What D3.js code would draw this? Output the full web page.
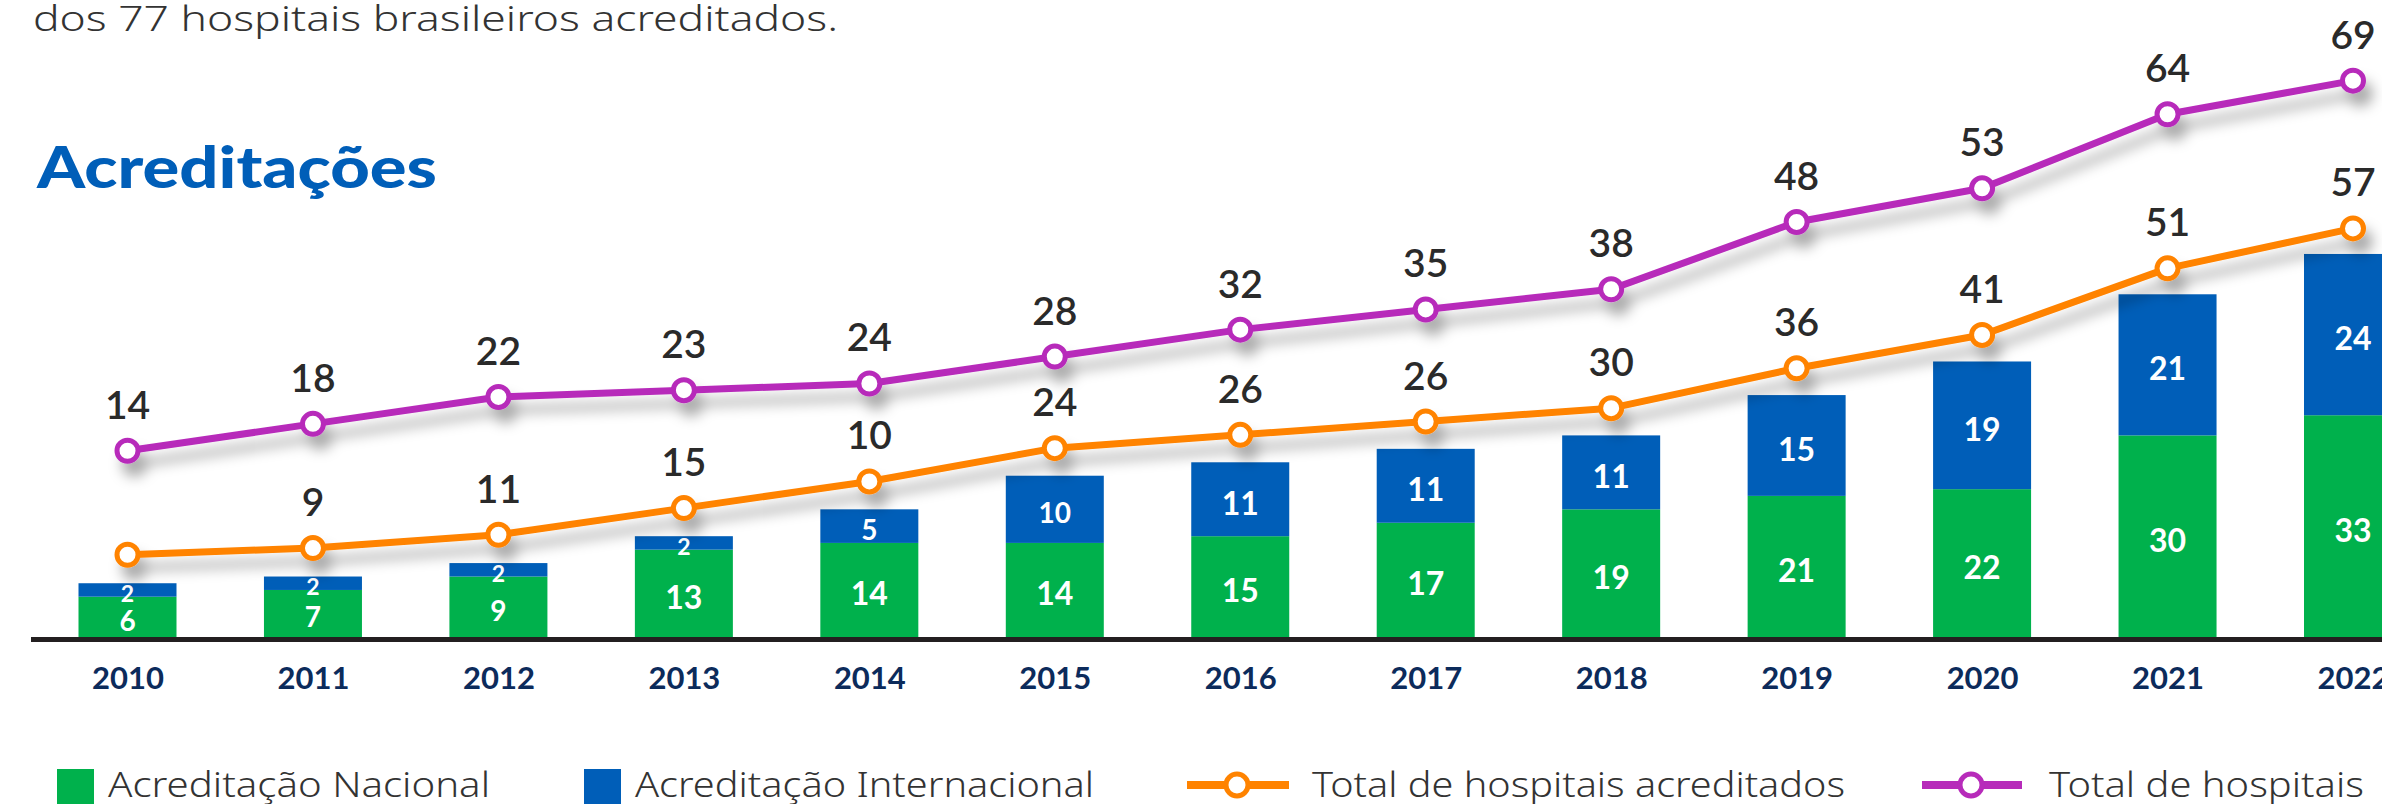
<!DOCTYPE html>
<html>
<head>
<meta charset="utf-8">
<script src="https://cdn.jsdelivr.net/npm/d3@7"></script>
<style>
  body { margin: 0; background: #fff; }
  svg { display: block; font-family: Lato, "Noto Sans", sans-serif; }
</style>
</head>
<body>
<div id="chart"></div>
<script>
var years = ["2010", "2011", "2012", "2013", "2014", "2015", "2016", "2017", "2018", "2019", "2020", "2021", "2022"];
var nacional = [6, 7, 9, 13, 14, 14, 15, 17, 19, 21, 22, 30, 33];
var internacional = [2, 2, 2, 2, 5, 10, 11, 11, 11, 15, 19, 21, 24];
var totalAcreditados = [8, 9, 11, 15, 19, 24, 26, 28, 30, 36, 41, 51, 57];
// labels as printed in the original (2014 and 2017 differ from the totals)
var totalAcreditadosLabels = ["", "9", "11", "15", "10", "24", "26", "26", "30", "36", "41", "51", "57"];
var totalHospitais = [14, 18, 22, 23, 24, 28, 32, 35, 38, 48, 53, 64, 69];

var legendLabels = ["Acreditação Nacional", "Acreditação Internacional", "Total de hospitais acreditados", "Total de hospitais"];

var green = "#00b14c", blue = "#005eb8", orange = "#ff8300", purple = "#b72bba";
var lightFont = "'Noto Sans', 'Open Sans', sans-serif";

var W = 2382, H = 804;
var svg = d3.select("#chart").append("svg")
    .attr("width", W)
    .attr("height", H);

// soft shadow under the lines
var defs = svg.append("defs");
var f = defs.append("filter").attr("id", "shadow")
    .attr("x", "-10%").attr("y", "-30%").attr("width", "130%").attr("height", "200%");
f.append("feDropShadow")
    .attr("dx", 7).attr("dy", 13).attr("stdDeviation", 6.5)
    .attr("flood-color", "#000").attr("flood-opacity", 0.33);

// --> scales
var x = d3.scalePoint().domain(years).range([127.5, 2353]);
var barW = 98;
var baseY = 637;
var yBar = d3.scaleLinear().domain([0, 60]).range([baseY, baseY - 60 * 6.72]);
// the two lines sit higher than the bars in the original layout
var yAcred = d3.scaleLinear().domain([0, 60]).range([608, 608 - 60 * 6.66]);
var yHosp = d3.scaleLinear().domain([0, 70]).range([545, 545 - 70 * 6.73]);

// header text
svg.append("text")
    .attr("x", 33).attr("y", 31)
    .attr("font-family", lightFont)
    .attr("font-size", 35).attr("font-weight", 300)
    .attr("fill", "#333")
    .attr("textLength", 805).attr("lengthAdjust", "spacingAndGlyphs")
    .text("dos 77 hospitais brasileiros acreditados.");

svg.append("text")
    .attr("x", 37).attr("y", 188)
    .attr("font-size", 57).attr("font-weight", 900)
    .attr("fill", blue)
    .attr("textLength", 400).attr("lengthAdjust", "spacingAndGlyphs")
    .text("Acreditações");

// --> stacked bars
var rows = years.map(function(yr, i) {
    return { year: yr, nac: nacional[i], intl: internacional[i] };
});

var bars = svg.append("g").selectAll("g")
    .data(rows)
  .enter().append("g");

bars.append("rect")
    .attr("x", function(d) { return x(d.year) - barW / 2; })
    .attr("width", barW)
    .attr("y", function(d) { return yBar(d.nac); })
    .attr("height", function(d) { return baseY - yBar(d.nac); })
    .attr("fill", green);

bars.append("rect")
    .attr("x", function(d) { return x(d.year) - barW / 2; })
    .attr("width", barW)
    .attr("y", function(d) { return yBar(d.nac + d.intl); })
    .attr("height", function(d) { return yBar(d.nac) - yBar(d.nac + d.intl); })
    .attr("fill", blue);

function segFont(h) {
    return h < 25 ? 23 : (h < 70 ? 28 : 32);
}

bars.append("text")
    .attr("x", function(d) { return x(d.year); })
    .attr("y", function(d) { return (baseY + yBar(d.nac)) / 2 + 3; })
    .attr("font-size", function(d) { return segFont(baseY - yBar(d.nac)); })
    .attr("dominant-baseline", "central")
    .text(function(d) { return d.nac; });

bars.append("text")
    .attr("x", function(d) { return x(d.year); })
    .attr("y", function(d) { return (yBar(d.nac) + yBar(d.nac + d.intl)) / 2 + 3; })
    .attr("font-size", function(d) { return segFont(yBar(d.nac) - yBar(d.nac + d.intl)); })
    .attr("dominant-baseline", "central")
    .text(function(d) { return d.intl; });

bars.selectAll("text")
    .attr("text-anchor", "middle")
    .attr("font-weight", 700)
    .attr("fill", "#fff");

// --> axis
svg.append("line")
    .attr("x1", 31).attr("x2", W)
    .attr("y1", baseY + 2.5).attr("y2", baseY + 2.5)
    .attr("stroke", "#231f20").attr("stroke-width", 5);

var xAxis = svg.append("g")
    .attr("transform", "translate(0," + baseY + ")")
    .call(d3.axisBottom(x).tickSize(0));
xAxis.select(".domain").remove();
xAxis.selectAll("text")
    .attr("y", 52).attr("dy", null)
    .attr("font-family", "Lato, 'Noto Sans', sans-serif")
    .attr("font-size", 31).attr("font-weight", 700)
    .attr("fill", "#0c2b5b");

// --> lines
function drawLine(values, labels, yScale, color) {
    var pts = values.map(function(v, i) { return [x(years[i]), yScale(v), labels[i]]; });
    var g = svg.append("g");
    var sh = g.append("g").attr("filter", "url(#shadow)");
    sh.append("path")
        .datum(pts)
        .attr("d", d3.line())
        .attr("fill", "none")
        .attr("stroke", color)
        .attr("stroke-width", 7)
        .attr("stroke-linejoin", "round");
    sh.selectAll("circle")
        .data(pts)
      .enter().append("circle")
        .attr("cx", function(d) { return d[0]; })
        .attr("cy", function(d) { return d[1]; })
        .attr("r", 10.5)
        .attr("fill", "#fff")
        .attr("stroke", color)
        .attr("stroke-width", 5);
    g.selectAll("text")
        .data(pts)
      .enter().append("text")
        .attr("x", function(d) { return d[0]; })
        .attr("y", function(d) { return d[1] - 32; })
        .attr("text-anchor", "middle")
        .attr("font-size", 39).attr("font-weight", 600)
        .attr("fill", "#2a2a2a")
        .text(function(d) { return d[2]; });
}

drawLine(totalAcreditados, totalAcreditadosLabels, yAcred, orange);
drawLine(totalHospitais, totalHospitais.map(String), yHosp, purple);

// --> legend
var legY = 785;
var leg = svg.append("g");

leg.append("rect").attr("x", 57).attr("y", 769).attr("width", 37).attr("height", 36).attr("fill", green);
leg.append("rect").attr("x", 584).attr("y", 769).attr("width", 37).attr("height", 36).attr("fill", blue);

[[1187, 1289, orange], [1922, 2022, purple]].forEach(function(s) {
    leg.append("line")
        .attr("x1", s[0]).attr("x2", s[1])
        .attr("y1", legY).attr("y2", legY)
        .attr("stroke", s[2]).attr("stroke-width", 8);
    leg.append("circle")
        .attr("cx", (s[0] + s[1]) / 2 - 1).attr("cy", legY)
        .attr("r", 11)
        .attr("fill", "#fff")
        .attr("stroke", s[2]).attr("stroke-width", 5);
});

var legX = [108, 635, 1312, 2049];
var legW = [382, 459, 533, 315];
leg.selectAll("text.lab")
    .data(legendLabels)
  .enter().append("text")
    .attr("class", "lab")
    .attr("x", function(d, i) { return legX[i]; })
    .attr("y", 797)
    .attr("font-family", lightFont)
    .attr("font-size", 34).attr("font-weight", 300)
    .attr("fill", "#333")
    .attr("textLength", function(d, i) { return legW[i]; })
    .attr("lengthAdjust", "spacingAndGlyphs")
    .text(function(d) { return d; });
</script>
</body>
</html>
